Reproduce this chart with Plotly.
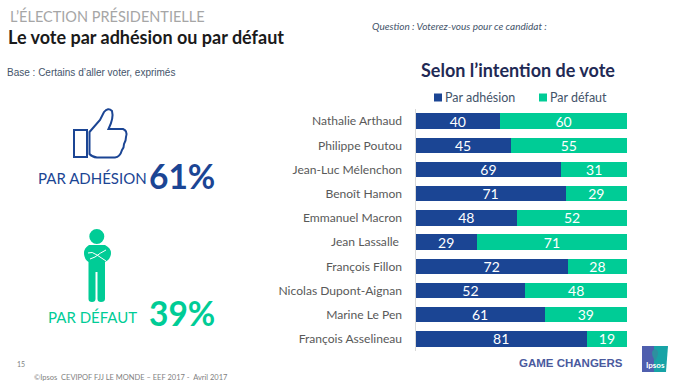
import plotly.graph_objects as go

candidates = ["Nathalie Arthaud", "Philippe Poutou", "Jean-Luc Mélenchon", "Benoît Hamon",
              "Emmanuel Macron", "Jean Lassalle ", "François Fillon",
              "Nicolas Dupont-Aignan", "Marine Le Pen", "François Asselineau"]
par_adhesion = [40, 45, 69, 71, 48, 29, 72, 52, 61, 81]
par_defaut = [60, 55, 31, 29, 52, 71, 28, 48, 39, 19]
total_adhesion = 61
total_defaut = 39

W, H = 684, 385
BLUE = "#1b4594"
GREEN = "#00cc96"
FONT = "Lato"

def px(x): return x / W
def py(y): return 1 - y / H

def path(cmds):
    out = []
    for c in cmds:
        if c == "Z":
            out.append("Z")
        else:
            op, *pts = c
            s = " ".join(f"{px(pts[i]):.5f},{py(pts[i+1]):.5f}" for i in range(0, len(pts), 2))
            out.append(f"{op} {s}")
    return " ".join(out)

fig = go.Figure()
fig.add_bar(name="Par adhésion", y=candidates, x=par_adhesion, orientation="h",
            marker=dict(color=BLUE, line=dict(width=0)), text=par_adhesion, textposition="inside",
            insidetextanchor="middle", textangle=0, constraintext="none",
            textfont=dict(color="#ffffff", size=14, family=FONT))
fig.add_bar(name="Par défaut", y=candidates, x=par_defaut, orientation="h",
            marker=dict(color=GREEN, line=dict(width=0)), text=par_defaut, textposition="inside",
            insidetextanchor="middle", textangle=0, constraintext="none",
            textfont=dict(color="#ffffff", size=14, family=FONT))

def note(x, y, text, size, color, anchor="left", bold=False, italic=False, family=FONT):
    t = f"<b>{text}</b>" if bold else text
    t = f"<i>{t}</i>" if italic else t
    return dict(x=px(x), y=py(y), xref="paper", yref="paper", text=t, showarrow=False,
                xanchor=anchor, yanchor="middle", align=anchor, borderpad=0, borderwidth=0,
                font=dict(size=size, color=color, family=family))

annotations = [
    note(10, 16, "L’ÉLECTION PRÉSIDENTIELLE", 14.5, "#a6a6a6"),
    note(8, 37, "Le vote par adhésion ou par défaut", 18, "#1a1a1a", bold=True),
    note(7, 72, "Base : Certains d’aller voter, exprimés", 10, "#44546a", family="Liberation Sans"),
    note(372, 26, "Question : Voterez-vous pour ce candidat :", 10, "#44546a", italic=True),
    note(518, 70, "Selon l’intention de vote", 18, "#1f2a55", anchor="center", bold=True),
    note(445, 98, "Par adhésion", 12.5, "#44546a"),
    note(550, 98, "Par défaut", 12.5, "#44546a"),
    note(38, 178, "PAR ADHÉSION", 15, BLUE),
    note(149, 176, f"{total_adhesion}%", 33.5, BLUE, bold=True),
    note(48, 317, "PAR DÉFAUT", 15, GREEN),
    note(149, 313, f"{total_defaut}%", 33.5, GREEN, bold=True),
    note(17, 364, "15", 7, "#7f7f7f"),
    note(34, 377, "©Ipsos  CEVIPOF FJJ LE MONDE – EEF 2017 -  Avril 2017", 7.5, "#7f7f7f"),
    note(623, 363, "GAME CHANGERS", 11.5, "#4a5a9e", anchor="right", bold=True, family="Liberation Sans"),
    note(655, 365, "Ipsos", 8, "#ffffff", anchor="center", bold=True),
]

thumb = [
    ("M", 89.5, 132), ("L", 100, 120), ("L", 104, 112),
    ("Q", 108, 107, 112, 111), ("Q", 114, 118, 108.5, 129),
    ("L", 123, 129), ("Q", 128, 131, 126, 137), ("Q", 126, 141, 124, 144),
    ("Q", 124, 148, 122, 150), ("Q", 120, 157, 115, 157.5),
    ("L", 97, 157.5), ("Q", 92, 157, 89.5, 154), "Z",
]
cuff = [("M", 74, 130), ("L", 87, 130), ("L", 87, 157), ("L", 74, 157), "Z"]
torso = [
    ("M", 89, 245), ("Q", 84, 248, 84, 253), ("Q", 84, 259, 88.5, 262),
    ("L", 88.5, 299), ("Q", 88.5, 302, 92, 302), ("Q", 95.5, 302, 95.5, 299),
    ("L", 95.5, 272), ("L", 97.5, 272), ("L", 97.5, 299),
    ("Q", 97.5, 302, 101, 302), ("Q", 105, 302, 105, 299),
    ("L", 105, 262), ("Q", 111, 259, 111, 253), ("Q", 111, 248, 105, 245), "Z",
]
arm1 = [("M", 88, 253), ("Q", 92, 251, 97, 255), ("L", 106, 261)]
arm2 = [("M", 106, 250), ("Q", 100, 253, 95, 257), ("L", 90, 259)]
logo_l = [("M", 642, 346), ("L", 654, 346), ("L", 654, 372), ("L", 642, 372), "Z"]
logo_r = [("M", 654, 346), ("L", 668, 346), ("L", 666, 372), ("L", 654, 372), "Z"]
logo_d = [("M", 655, 349), ("Q", 661, 351, 655, 361), ("Q", 649, 351, 655, 349), "Z"]

def ps(cmds, **kw):
    return dict(type="path", path=path(cmds), xref="paper", yref="paper", **kw)

def square(x0, y0, x1, y1, color):
    return dict(type="rect", xref="paper", yref="paper", x0=px(x0), x1=px(x1),
                y0=py(y1), y1=py(y0), fillcolor=color, line=dict(width=0))

NOFILL = "rgba(0,0,0,0)"
shapes = [
    ps(thumb, line=dict(color=BLUE, width=2), fillcolor=NOFILL),
    ps(cuff, line=dict(color=BLUE, width=2), fillcolor=NOFILL),
    dict(type="circle", xref="paper", yref="paper", x0=px(89.3), x1=px(104.3),
         y0=py(244), y1=py(229), fillcolor=GREEN, line=dict(width=0)),
    ps(torso, fillcolor=GREEN, line=dict(width=0)),
    ps(arm1, line=dict(color="#ffffff", width=1), fillcolor=NOFILL),
    ps(arm2, line=dict(color="#ffffff", width=1), fillcolor=NOFILL),
    ps(logo_l, fillcolor="#4f5fae", line=dict(width=0)),
    ps(logo_r, fillcolor="#17a3a6", line=dict(width=0)),
    ps(logo_d, fillcolor="#2e8f9f", line=dict(width=0)),
    square(434, 93.5, 442, 101.5, BLUE),
    square(539, 93.5, 547, 101.5, GREEN),
]

fig.update_layout(
    width=W, height=H, margin=dict(l=0, r=0, t=0, b=0, autoexpand=False),
    paper_bgcolor="#ffffff", plot_bgcolor="#ffffff",
    barmode="stack", bargap=0.36, showlegend=False,
    font=dict(family=FONT, color="#595959"),
    xaxis=dict(domain=[px(415.5), px(627)], range=[0, 100], visible=False, fixedrange=True),
    yaxis=dict(domain=[py(351), py(109)], categoryorder="array", categoryarray=candidates,
               autorange="reversed", showgrid=False, zeroline=False, showline=True,
               linecolor="#d9d9d9", linewidth=1, ticks="", ticklabelstandoff=10,
               tickfont=dict(size=12.1, color="#595959", family=FONT)),
    annotations=annotations, shapes=shapes,
)
fig.write_html("out.html", config=dict(displayModeBar=False),
               post_script="document.body.style.margin='0';document.body.style.overflow='hidden';")
